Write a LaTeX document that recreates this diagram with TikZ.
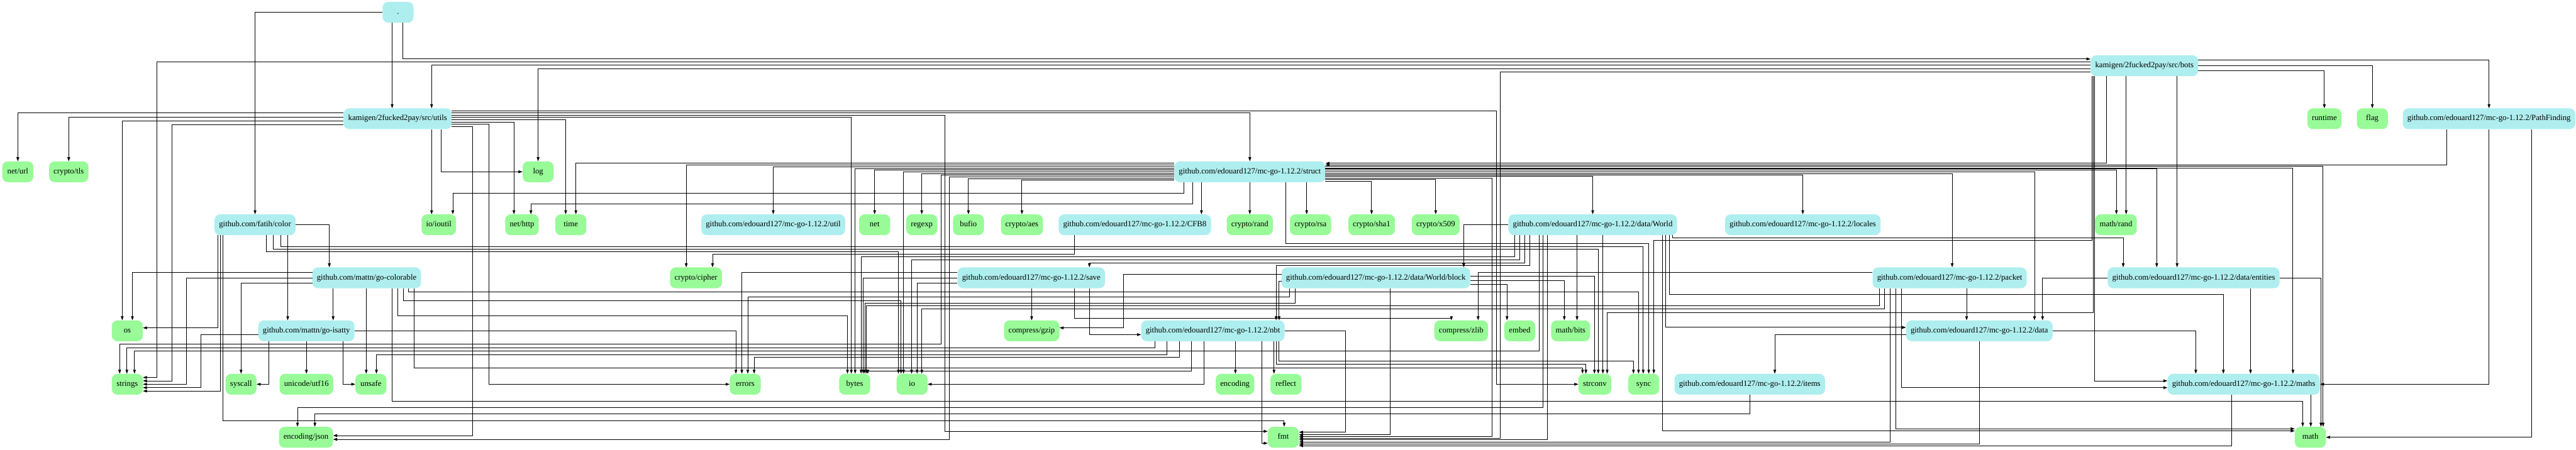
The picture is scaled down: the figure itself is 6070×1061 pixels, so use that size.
\documentclass[tikz,border=0pt]{standalone}
\usepackage{fontspec}
\setmainfont{Liberation Serif}
\usetikzlibrary{arrows.meta}
\definecolor{tq}{HTML}{AFEEEE}
\definecolor{pg}{HTML}{98FB98}
\tikzset{
 pkg/.style={rectangle, rounded corners=13pt, minimum width=73pt, minimum height=49pt,
   inner xsep=10.7pt, inner ysep=0pt, text height=13pt, text depth=4pt,
   font=\fontsize{18.9}{22}\selectfont, draw=none},
 tnode/.style={pkg, fill=tq},
 gnode/.style={pkg, fill=pg},
 edg/.style={line width=1.4pt, -{Triangle[length=9.5pt,width=6.5pt]}}
}
\begin{document}
\begin{tikzpicture}[x=1pt,y=-1pt]
\fill[white] (0,0) rectangle (6070,1061);
\path[use as bounding box] (0,0) rectangle (6070,1061);
% row 0-3
\node[tnode] (dot) at (938,29) {.};
\node[tnode] (bots) at (5053,155) {kamigen/2fucked2pay/src/bots};
\node[tnode] (utils) at (937,280) {kamigen/2fucked2pay/src/utils};
\node[gnode] (runtime) at (5477,280) {runtime};
\node[gnode] (flag) at (5590,280) {flag};
\node[tnode] (pathfinding) at (5865,280) {github.com/edouard127/mc-go-1.12.2/PathFinding};
\node[gnode] (neturl) at (42,405) {net/url};
\node[gnode] (cryptotls) at (162,405) {crypto/tls};
\node[gnode] (log) at (1268,405) {log};
\node[tnode] (struct) at (2945,405) {github.com/edouard127/mc-go-1.12.2/struct};
% row 4
\node[tnode] (color) at (601,530) {github.com/fatih/color};
\node[gnode] (ioutil) at (1034,530) {io/ioutil};
\node[gnode] (nethttp) at (1230,530) {net/http};
\node[gnode] (time) at (1345,530) {time};
\node[tnode] (util) at (1822,530) {github.com/edouard127/mc-go-1.12.2/util};
\node[gnode] (net) at (2061,530) {net};
\node[gnode] (regexp) at (2172,530) {regexp};
\node[gnode] (bufio) at (2282,530) {bufio};
\node[gnode] (aes) at (2408,530) {crypto/aes};
\node[tnode] (cfb8) at (2674,530) {github.com/edouard127/mc-go-1.12.2/CFB8};
\node[gnode] (rand) at (2945,530) {crypto/rand};
\node[gnode] (rsa) at (3088,530) {crypto/rsa};
\node[gnode] (sha1) at (3232,530) {crypto/sha1};
\node[gnode] (x509) at (3383,530) {crypto/x509};
\node[tnode] (world) at (3753,530) {github.com/edouard127/mc-go-1.12.2/data/World};
\node[tnode] (locales) at (4248,530) {github.com/edouard127/mc-go-1.12.2/locales};
\node[gnode] (mathrand) at (4986,530) {math/rand};
% row 5
\node[tnode] (colorable) at (864,655) {github.com/mattn/go-colorable};
\node[gnode] (cipher) at (1640,655) {crypto/cipher};
\node[tnode] (save) at (2430,655) {github.com/edouard127/mc-go-1.12.2/save};
\node[tnode] (block) at (3242,655) {github.com/edouard127/mc-go-1.12.2/data/World/block};
\node[tnode] (packet) at (4594,655) {github.com/edouard127/mc-go-1.12.2/packet};
\node[tnode] (entities) at (5169,655) {github.com/edouard127/mc-go-1.12.2/data/entities};
% row 6
\node[gnode] (os) at (300,780) {os};
\node[tnode] (isatty) at (722,780) {github.com/mattn/go-isatty};
\node[gnode] (gzip) at (2431,780) {compress/gzip};
\node[tnode] (nbt) at (2858,780) {github.com/edouard127/mc-go-1.12.2/nbt};
\node[gnode] (zlib) at (3443,780) {compress/zlib};
\node[gnode] (embed) at (3581,780) {embed};
\node[gnode] (bits) at (3701,780) {math/bits};
\node[tnode] (data) at (4664,780) {github.com/edouard127/mc-go-1.12.2/data};
% row 7
\node[gnode] (strings) at (300,906) {strings};
\node[gnode] (syscall) at (568,906) {syscall};
\node[gnode] (utf16) at (722,906) {unicode/utf16};
\node[gnode] (unsafe) at (874,906) {unsafe};
\node[gnode] (errors) at (1756,906) {errors};
\node[gnode] (bytes) at (2014,906) {bytes};
\node[gnode] (io) at (2149,906) {io};
\node[gnode] (encoding) at (2910,906) {encoding};
\node[gnode] (reflect) at (3030,906) {reflect};
\node[gnode] (strconv) at (3758,906) {strconv};
\node[gnode] (sync) at (3873,906) {sync};
\node[tnode] (items) at (4123,906) {github.com/edouard127/mc-go-1.12.2/items};
\node[tnode] (maths) at (5287,906) {github.com/edouard127/mc-go-1.12.2/maths};
% row 8
\node[gnode] (json) at (721,1031) {encoding/json};
\node[gnode] (fmt) at (3024,1031) {fmt};
\node[gnode] (math) at (5444,1031) {math};

% ---- edges: dot
\draw[edg] (dot.west) -| (color.north);
\draw[edg] (dot.south -| 924,0) -- (utils.north -| 924,0);
\draw[edg] (dot.south -| 949,0) |- (bots.west |- 0,139);
% bots
\draw[edg] (bots.west |- 0,146) -- (370,146) |- (strings.east |- 0,890);
\draw[edg] (bots.west |- 0,154) -| (utils.north -| 1017,0);
\draw[edg] (bots.west |- 0,162) -| (log.north);
\draw[edg] (bots.west |- 0,170) -- (3535,170) |- (fmt.east |- 0,1033);
\draw[edg] (bots.south -| 4963,0) |- (struct.east |- 0,385);
\draw[edg] (bots.south -| 5010,0) -- (mathrand.north -| 5010,0);
\draw[edg] (bots.south -| 5130,0) -- (entities.north -| 5130,0);
\draw[edg] (bots.south -| 4936,0) |- (maths.west |- 0,898);
\draw[edg] (bots.south -| 4933,0) |- (3787,737) -- (strconv.north -| 3787,0);
\draw[edg] (bots.south -| 4930,0) |- (3897,567) -- (sync.north -| 3897,0);
\draw[edg] (bots.east |- 0,167) -| (runtime.north);
\draw[edg] (bots.east) -| (flag.north);
\draw[edg] (bots.east |- 0,142) -| (pathfinding.north);
% pathfinding
\draw[edg] (pathfinding.south -| 5766,0) |- (struct.east |- 0,389);
\draw[edg] (pathfinding.south) |- (maths.east);
\draw[edg] (pathfinding.south -| 5965,0) |- (math.east);
% utils
\draw[edg] (utils.west |- 0,266) -| (neturl.north);
\draw[edg] (utils.west |- 0,276) -| (cryptotls.north);
\draw[edg] (utils.west |- 0,285) -| (os.north -| 288,0);
\draw[edg] (utils.west |- 0,294) -- (405,294) |- (strings.east |- 0,898);
\draw[edg] (utils.south -| 1017,0) -- (ioutil.north -| 1017,0);
\draw[edg] (utils.south -| 1039,0) |- (log.west);
\draw[edg] (utils.east |- 0,283) -| (time.north -| 1333,0);
\draw[edg] (utils.east |- 0,288) -| (nethttp.north -| 1211,0);
\draw[edg] (utils.east |- 0,293) -- (1152,293) |- (errors.west);
\draw[edg] (utils.east |- 0,299) -- (1113,299) |- (json.east |- 0,1027);
\draw[edg] (utils.east |- 0,277) -| (bytes.north -| 2006,0);
\draw[edg] (utils.east |- 0,266) -| (struct.north);
\draw[edg] (utils.east |- 0,272) -- (2227,272) |- (fmt.west |- 0,1017);
\draw[edg] (utils.east |- 0,262) -- (3526,262) |- (strconv.west);
% struct
\draw[edg] (struct.south -| 2790,0) |- (1067,455) -- (ioutil.north -| 1067,0);
\draw[edg] (struct.south -| 2811,0) |- (1251,481) -- (nethttp.north -| 1251,0);
\draw[edg] (struct.south -| 2831,0) -- (cfb8.north -| 2831,0);
\draw[edg] (struct.south) -- (rand.north);
\draw[edg] (struct.west |- 0,385) -| (time.north -| 1357,0);
\draw[edg] (struct.west |- 0,389) -| (cipher.north -| 1617,0);
\draw[edg] (struct.west |- 0,393) -| (util.north);
\draw[edg] (struct.west |- 0,398) -| (bytes.north -| 2015,0);
\draw[edg] (struct.west |- 0,401) -| (net.north);
\draw[edg] (struct.west |- 0,405) -| (io.north -| 2129,0);
\draw[edg] (struct.west |- 0,410) -| (regexp.north);
\draw[edg] (struct.west |- 0,413) -- (2218,413) |- (282,812) -- (strings.north -| 282,0);
\draw[edg] (struct.west |- 0,417) -- (2237,417) |- (json.east |- 0,1036);
\draw[edg] (struct.west |- 0,421) -| (bufio.north);
\draw[edg] (struct.west |- 0,425) -| (aes.north);
\draw[edg] (struct.south -| 3079,0) -- (rsa.north -| 3079,0);
\draw[edg] (struct.east |- 0,427) -| (sha1.north);
\draw[edg] (struct.east |- 0,423) -| (x509.north);
\draw[edg] (struct.east |- 0,420) -- (3516,420) |- (fmt.east |- 0,1029);
\draw[edg] (struct.east |- 0,416) -| (world.north);
\draw[edg] (struct.south -| 3030,0) |- (3885,574) -- (sync.north -| 3885,0);
\draw[edg] (struct.east |- 0,405) -| (data.north -| 4794,0);
\draw[edg] (struct.east |- 0,410) -| (packet.north -| 4600,0);
\draw[edg] (struct.east |- 0,413) -| (locales.north);
\draw[edg] (struct.east |- 0,401) -| (mathrand.north -| 4987,0);
\draw[edg] (struct.east |- 0,398) -| (entities.north -| 5082,0);
\draw[edg] (struct.east |- 0,396) -| (maths.north -| 5403,0);
\draw[edg] (struct.east |- 0,392) -| (math.north -| 5474,0);
% color
\draw[edg] (color.east) -| (colorable.north -| 776,0);
\draw[edg] (color.south -| 678,0) -- (isatty.north -| 678,0);
\draw[edg] (color.south -| 514,0) |- (os.east |- 0,773);
\draw[edg] (color.south -| 520,0) |- (strings.east |- 0,922);
\draw[edg] (color.south -| 526,0) |- (3026,992) -- (fmt.north -| 3026,0);
\draw[edg] (color.south -| 628,0) |- (2117,593) -- (io.north -| 2117,0);
\draw[edg] (color.south -| 661,0) |- (3872,581) -- (sync.north -| 3872,0);
\draw[edg] (color.south -| 644,0) |- (3766,587) -- (strconv.north -| 3766,0);
% colorable
\draw[edg] (colorable.west |- 0,643) -| (os.north -| 312,0);
\draw[edg] (colorable.west) -- (439,655) |- (strings.east);
\draw[edg] (colorable.west |- 0,667) -| (syscall.north);
\draw[edg] (colorable.south -| 785,0) -- (isatty.north -| 785,0);
\draw[edg] (colorable.south -| 863,0) -- (unsafe.north -| 863,0);
\draw[edg] (colorable.south -| 937,0) |- (1997,744) -- (bytes.north -| 1997,0);
\draw[edg] (colorable.south -| 950,0) |- (2123,709) -- (io.north -| 2123,0);
\draw[edg] (colorable.south -| 963,0) |- (3861,688) -- (sync.north -| 3861,0);
\draw[edg] (colorable.south -| 976,0) |- (3729,867) -- (strconv.north -| 3729,0);
\draw[edg] (colorable.south -| 924,0) |- (5426,946) -- (math.north -| 5426,0);
% isatty
\draw[edg] (isatty.west |- 0,789) -- (473,789) |- (strings.east |- 0,914);
\draw[edg] (isatty.south -| 634,0) |- (syscall.east);
\draw[edg] (isatty.south) -- (utf16.north);
\draw[edg] (isatty.south -| 809,0) |- (unsafe.west);
\draw[edg] (isatty.east) -| (errors.north -| 1734,0);
% save
\draw[edg] (save.west |- 0,643) -| (errors.north -| 1748,0);
\draw[edg] (save.west) -| (bytes.north -| 2034,0);
\draw[edg] (save.west |- 0,667) -| (io.north -| 2161,0);
\draw[edg] (save.south -| 2431,0) -- (gzip.north);
\draw[edg] (save.south -| 2532,0) |- (3420,750) -- (zlib.north -| 3420,0);
\draw[edg] (save.south -| 2567,0) |- (nbt.west |- 0,789);
% cfb8
\draw[edg] (cfb8.south -| 2532,0) |- (1679,600) -- (cipher.north -| 1679,0);
% world
\draw[edg] (world.west) -| (block.north -| 3449,0);
\draw[edg] (world.south -| 3569,0) |- (2029,606) -- (bytes.north -| 2029,0);
\draw[edg] (world.south -| 3581,0) |- (2148,612) -- (io.north -| 2148,0);
\draw[edg] (world.south -| 3593,0) |- (2567,620) -- (save.north -| 2567,0);
\draw[edg] (world.south -| 3605,0) |- (3007,626) -- (nbt.north -| 3007,0);
\draw[edg] (world.south -| 3627,0) |- (317,828) -- (strings.north -| 317,0);
\draw[edg] (world.south -| 3646,0) |- (fmt.east |- 0,1037);
\draw[edg] (world.south -| 3636,0) |- (701,961) -- (json.north -| 701,0);
\draw[edg] (world.south -| 3777,0) -- (strconv.north -| 3777,0);
\draw[edg] (world.south -| 3716,0) -- (bits.north -| 3716,0);
\draw[edg] (world.south -| 3917,0) |- (math.west |- 0,1016);
\draw[edg] (world.south -| 3925,0) |- (data.west |- 0,772);
\draw[edg] (world.south -| 3934,0) |- (5239,694) -- (maths.north -| 5239,0);
\draw[edg] (world.south -| 3941,0) |- (5003,561) -- (entities.north -| 5003,0);
% block
\draw[edg] (block.west |- 0,663) -| (nbt.north -| 3014,0);
\draw[edg] (block.west |- 0,647) -- (2647,647) |- (gzip.east |- 0,773);
\draw[edg] (block.east |- 0,651) -| (strconv.north -| 3757,0);
\draw[edg] (block.east |- 0,661) -| (bits.north -| 3686,0);
\draw[edg] (block.east |- 0,670) -| (embed.north -| 3551,0);
\draw[edg] (block.south -| 3039,0) |- (1762,700) -- (errors.north -| 1762,0);
\draw[edg] (block.south -| 3052,0) |- (2038,715) -- (bytes.north -| 2038,0);
\draw[edg] (block.south -| 3275,0) |- (fmt.east |- 0,1025);
% packet
\draw[edg] (packet.west |- 0,642) -| (zlib.north -| 3483,0);
\draw[edg] (packet.south -| 4428,0) |- (2042,721) -- (bytes.north -| 2042,0);
\draw[edg] (packet.south -| 4441,0) |- (2172,728) -- (io.north -| 2172,0);
\draw[edg] (packet.south -| 4454,0) |- (fmt.east |- 0,1042);
\draw[edg] (packet.south -| 4467,0) |- (math.west |- 0,1011);
\draw[edg] (packet.south -| 4480,0) |- (maths.west |- 0,914);
\draw[edg] (packet.south -| 4634,0) -- (data.north -| 4634,0);
% data
\draw[edg] (data.east) -| (maths.north -| 5174,0);
\draw[edg] (data.west |- 0,789) -| (items.north -| 4182,0);
\draw[edg] (data.south) |- (fmt.east |- 0,1047);
% entities
\draw[edg] (entities.west) -| (data.north -| 4813,0);
\draw[edg] (entities.south -| 5303,0) -- (maths.north -| 5303,0);
\draw[edg] (entities.east) -| (math.north -| 5469,0);
% nbt
\draw[edg] (nbt.south -| 2721,0) |- (299,820) -- (strings.north -| 299,0);
\draw[edg] (nbt.south -| 2750,0) |- (887,836) -- (unsafe.north -| 887,0);
\draw[edg] (nbt.south -| 2779,0) |- (1777,843) -- (errors.north -| 1777,0);
\draw[edg] (nbt.south -| 2808,0) |- (2045,875) -- (bytes.north -| 2045,0);
\draw[edg] (nbt.south -| 2837,0) |- (io.east);
\draw[edg] (nbt.south -| 2911,0) -- (encoding.north -| 2911,0);
\draw[edg] (nbt.south -| 2973,0) |- (fmt.west |- 0,1045);
\draw[edg] (nbt.south -| 3002,0) -- (reflect.north -| 3002,0);
\draw[edg] (nbt.south -| 3008,0) |- (3737,859) -- (strconv.north -| 3737,0);
\draw[edg] (nbt.south -| 3014,0) |- (3849,851) -- (sync.north -| 3849,0);
\draw[edg] (nbt.east) -- (3170,780) |- (fmt.east |- 0,1019);
% items
\draw[edg] (items.south) |- (742,976) -- (json.north -| 742,0);
% maths
\draw[edg] (maths.south -| 5259,0) |- (fmt.east |- 0,1051);
\draw[edg] (maths.south -| 5445,0) -- (math.north -| 5445,0);
\end{tikzpicture}
\end{document}
